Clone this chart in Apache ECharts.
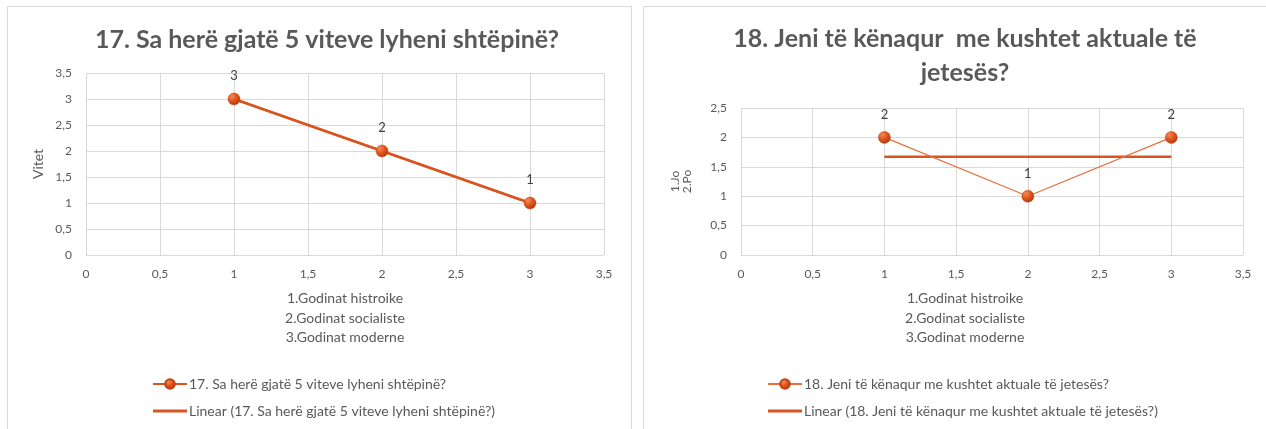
<!DOCTYPE html>
<html>
<head>
<meta charset="utf-8">
<script src="https://cdn.jsdelivr.net/npm/echarts@6/dist/echarts.min.js"></script>
<style>
  html, body { margin: 0; padding: 0; background: #ffffff; }
  #chart { width: 1266px; height: 429px; }
</style>
</head>
<body>
<div id="chart"></div>
<script>
// Survey answers: x = building type (1..3), y = answer value
const xValues = [1, 2, 3];
const renovations = [3, 2, 1];          // 17. times renovated in 5 years
const renovationsTrend = [3, 2, 1];     // linear trendline for question 17
const satisfaction = [2, 1, 2];         // 18. satisfied with living conditions
const satisfactionTrend = [1.67, 1.67, 1.67]; // linear trendline for question 18

const title17 = '17. Sa herë gjatë 5 viteve lyheni shtëpinë?';
const title18 = '18. Jeni të kënaqur  me kushtet aktuale të\njetesës?';
const series17 = '17. Sa herë gjatë 5 viteve lyheni shtëpinë?';
const series18 = '18. Jeni të kënaqur me kushtet aktuale të jetesës?';
const trend17 = 'Linear (17. Sa herë gjatë 5 viteve lyheni shtëpinë?)';
const trend18 = 'Linear (18. Jeni të kënaqur me kushtet aktuale të jetesës?)';
const xAxisName = '1.Godinat histroike\n2.Godinat socialiste\n3.Godinat moderne';
const yName17 = 'Vitet';
const yName18 = '1.Jo\n2.Po';

const FONT = 'Lato, "Open Sans", sans-serif';
const TEXT = '#595959';
const GRID = '#d9d9d9';
const LINE = '#d9541e';
// flat bar used as the legend icon of a trendline
const TREND_ICON = 'path://M0,0 L34,0 L34,3 L0,3 Z';

const pairs = (xs, ys) => xs.map((x, i) => [x, ys[i]]);
const comma = v => String(v).replace('.', ',');

const markerColor = new echarts.graphic.RadialGradient(0.35, 0.3, 0.75, [
  { offset: 0, color: '#f58a5a' },
  { offset: 0.5, color: '#e0541c' },
  { offset: 1, color: '#a83a0e' }
]);

function xAxis(gridIndex, namePad) {
  return {
    type: 'value', gridIndex, min: 0, max: 3.5, interval: 0.5,
    axisLine: { show: false }, axisTick: { show: false },
    splitLine: { show: true, lineStyle: { color: GRID, width: 1 } },
    axisLabel: { color: TEXT, fontSize: 12, fontFamily: FONT, margin: 13, formatter: comma },
    name: xAxisName, nameLocation: 'middle', nameGap: 34,
    nameTextStyle: { color: TEXT, fontSize: 14, fontFamily: FONT, lineHeight: 19.5,
                     verticalAlign: 'top', align: 'center', padding: namePad }
  };
}
function yAxis(gridIndex, max, name, gap) {
  return {
    type: 'value', gridIndex, min: 0, max, interval: 0.5,
    axisLine: { show: false }, axisTick: { show: false },
    splitLine: { show: true, lineStyle: { color: GRID, width: 1 } },
    axisLabel: { color: TEXT, fontSize: 12, fontFamily: FONT, margin: 14, formatter: comma },
    name, nameLocation: 'middle', nameGap: gap, nameRotate: 90,
    nameTextStyle: { color: TEXT, fontSize: gridIndex === 0 ? 14 : 12, fontFamily: FONT, lineHeight: 12 }
  };
}
function dataSeries(name, idx, data, lineWidth, lineColor) {
  return {
    name, type: 'line', xAxisIndex: idx, yAxisIndex: idx, data,
    symbol: 'circle', symbolSize: 12,
    itemStyle: { color: markerColor, borderColor: '#c2420f', borderWidth: 0.5 },
    lineStyle: { color: lineColor, width: lineWidth },
    label: { show: true, position: 'top', distance: 10, color: '#404040', fontSize: 13, fontFamily: FONT,
             formatter: p => comma(p.value[1]) },
    z: 3
  };
}
function trendSeries(name, idx, data) {
  return {
    name, type: 'line', xAxisIndex: idx, yAxisIndex: idx, data,
    symbol: 'none', lineStyle: { color: LINE, width: 2.5 }, itemStyle: { color: LINE },
    silent: true, z: 2
  };
}
function legend(seriesName, trendName, left) {
  return {
    data: [
      { name: seriesName },
      { name: trendName, icon: TREND_ICON, itemStyle: { color: LINE } }
    ],
    left, top: 372, orient: 'vertical', itemGap: 13,
    itemWidth: 34, itemHeight: 12,
    textStyle: { color: TEXT, fontSize: 14, fontFamily: FONT, padding: [0, 0, 0, -3] }
  };
}

const chart = echarts.init(document.getElementById('chart'), null, { renderer: 'canvas' });
chart.setOption({
  backgroundColor: '#ffffff',
  animation: false,
  graphic: [
    { type: 'rect', shape: { x: 7.5, y: 6.5, width: 624, height: 430 }, style: { fill: 'none', stroke: '#d9d9d9', lineWidth: 1 } },
    { type: 'rect', shape: { x: 643.5, y: 6.5, width: 630, height: 430 }, style: { fill: 'none', stroke: '#d9d9d9', lineWidth: 1 } }
  ],
  title: [
    { text: title17, left: 322, top: 22, textAlign: 'center',
      textStyle: { color: TEXT, fontSize: 25, fontWeight: 'bold', fontFamily: FONT } },
    { text: title18, left: 960, top: 17, textAlign: 'center',
      textStyle: { color: TEXT, fontSize: 25, fontWeight: 'bold', fontFamily: FONT, lineHeight: 34 } }
  ],
  legend: [legend(series17, trend17, 147), legend(series18, trend18, 762)],
  grid: [
    { left: 86, right: 662, top: 73, bottom: 174 },
    { left: 741, right: 23, top: 108, bottom: 174 }
  ],
  xAxis: [xAxis(0, 0), xAxis(1, [0, 54, 0, 0])],
  yAxis: [yAxis(0, 3.5, yName17, 42), yAxis(1, 2.5, yName18, 48)],
  series: [
    dataSeries(series17, 0, pairs(xValues, renovations), 2, LINE),
    trendSeries(trend17, 0, pairs(xValues, renovationsTrend)),
    dataSeries(series18, 1, pairs(xValues, satisfaction), 1.2, '#e8703f'),
    trendSeries(trend18, 1, pairs(xValues, satisfactionTrend))
  ]
});
</script>
</body>
</html>
